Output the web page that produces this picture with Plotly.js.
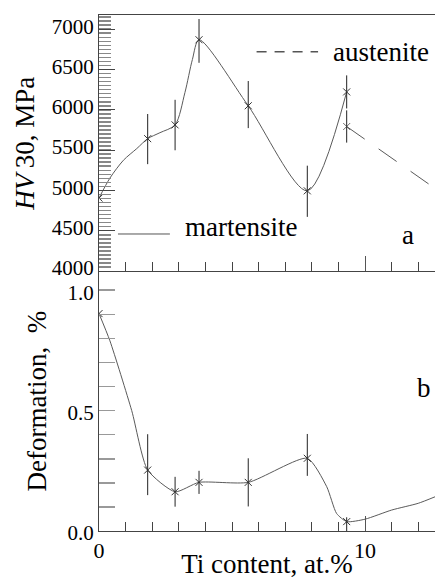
<!DOCTYPE html>
<html>
<head>
<meta charset="utf-8">
<script src="https://cdn.plot.ly/plotly-3.0.1.min.js"></script>
<style>html,body{margin:0;padding:0;background:#fff;}#chart{width:435px;height:579px;}</style>
</head>
<body>
<div id="chart"></div>
<script>
// ---- data ----
// measured points (markers + error bars)
const tiContent      = [0, 1.83, 2.86, 3.76, 5.61, 7.83, 9.31];
const hvMartensite   = [4905, 5642, 5813, 6869, 6050, 4995, 6222];
const hvErrPlus      = [0, 306, 311, 257, 307, 312, 205];
const hvErrMinus     = [0, 316, 315, 286, 277, 323, 205];
const tiAustenite    = [9.31, 12.63];
const hvAustenite    = [5793, 5025];
const hvAusErr       = [200, 0];
const deformation    = [0.903, 0.253, 0.163, 0.202, 0.202, 0.302, 0.039];
const defErrPlus     = [0, 0.149, 0.062, 0.048, 0.100, 0.101, 0.018];
const defErrMinus    = [0, 0.104, 0.062, 0.048, 0.100, 0.073, 0.039];
// smooth guide curves
const tiHvCurve      = [0, 0.41, 0.92, 1.42, 1.83, 2.29, 2.86, 3.23, 3.51, 3.76, 5.61, 7.83, 9.31];
const hvCurve        = [4905, 5153, 5375, 5519, 5642, 5716, 5813, 6214, 6623, 6869, 6050, 4995, 6222];
const tiDefCurve     = [0, 0.41, 1.23, 1.83, 2.86, 3.76, 5.61, 7.83, 8.56, 8.93, 9.31, 10, 11, 12, 12.63];
const defCurve       = [0.903, 0.790, 0.500, 0.253, 0.163, 0.202, 0.202, 0.302, 0.184, 0.073, 0.039, 0.049, 0.087, 0.115, 0.142];
// ticks
const hvTicks        = [4000, 4500, 5000, 5500, 6000, 6500, 7000];
const defTicks       = [0.0, 0.5, 1.0];
const xTicks         = [0, 10];

const FONT = 'Liberation Serif, Times New Roman, serif';
const lineCol = '#5a5a5a';
const markCol = '#333';
const mk = {symbol: 'x-thin', size: 7, line: {width: 1, color: markCol}, color: markCol};

const traces = [
  { x: tiHvCurve, y: hvCurve, xaxis: 'x2', yaxis: 'y2', mode: 'lines',
    line: {color: lineCol, width: 1, shape: 'spline', smoothing: 0.8}, hoverinfo: 'skip' },
  { x: tiContent, y: hvMartensite, xaxis: 'x2', yaxis: 'y2', mode: 'markers', marker: mk,
    error_y: {type: 'data', symmetric: false, array: hvErrPlus, arrayminus: hvErrMinus,
              color: '#222', thickness: 1, width: 0}, hoverinfo: 'skip' },
  { x: tiAustenite, y: hvAustenite, xaxis: 'x2', yaxis: 'y2', mode: 'lines+markers',
    line: {color: lineCol, width: 1, dash: '22px,17px'},
    marker: Object.assign({}, mk, {size: [7, 0]}),
    error_y: {type: 'data', array: hvAusErr, color: '#222', thickness: 1, width: 0}, hoverinfo: 'skip' },
  { x: tiDefCurve, y: defCurve, xaxis: 'x', yaxis: 'y', mode: 'lines',
    line: {color: lineCol, width: 1, shape: 'spline', smoothing: 0.6}, hoverinfo: 'skip' },
  { x: tiContent, y: deformation, xaxis: 'x', yaxis: 'y', mode: 'markers', marker: mk,
    error_y: {type: 'data', symmetric: false, array: defErrPlus, arrayminus: defErrMinus,
              color: '#222', thickness: 1, width: 0}, hoverinfo: 'skip' }
];

const xCommon = {
  range: [0, 12.63], showgrid: false, zeroline: false,
  showline: true, linecolor: '#444', linewidth: 1,
  ticks: 'inside', tickmode: 'array', tickvals: xTicks, ticklen: 15, tickcolor: '#555', tickwidth: 1,
  minor: {dtick: 1, tick0: 0, ticks: 'inside', ticklen: 9, tickcolor: '#444', tickwidth: 1, showgrid: false},
  tickfont: {family: FONT, size: 22, color: '#000'}
};

const layout = {
  width: 435, height: 579,
  margin: {l: 99, r: 0, t: 15, b: 48, pad: 0},
  paper_bgcolor: '#fff', plot_bgcolor: '#fff',
  font: {family: FONT, color: '#000'},
  showlegend: false,
  xaxis: Object.assign({}, xCommon, {
    anchor: 'y', domain: [0, 1],
    title: {text: 'Ti content, at.%', font: {family: FONT, size: 27, color: '#000'}, standoff: 4}
  }),
  xaxis2: Object.assign({}, xCommon, {
    anchor: 'y2', matches: 'x', showticklabels: false, mirror: true
  }),
  yaxis: {
    domain: [0, 0.503], range: [0, 1.078], showgrid: false, zeroline: false,
    showline: true, linecolor: '#444', linewidth: 1,
    ticks: 'inside', tickmode: 'array', tickvals: defTicks, tickformat: '.1f',
    ticklen: 16, tickcolor: '#999', tickwidth: 1.5, ticklabelshift: 2,
    minor: {dtick: 0.1, tick0: 0, ticks: 'inside', ticklen: 16, tickcolor: '#999', tickwidth: 1.5, showgrid: false},
    tickfont: {family: FONT, size: 21, color: '#000'},
    title: {text: 'Deformation,  %', font: {family: FONT, size: 27, color: '#000'}, standoff: 13}
  },
  yaxis2: {
    domain: [0.503, 1], range: [3995, 7176], showgrid: false, zeroline: false,
    showline: true, linecolor: '#444', linewidth: 1,
    ticks: 'inside', tickmode: 'array', tickvals: hvTicks, tickformat: 'd',
    ticklen: 16, tickcolor: '#444', tickwidth: 1, ticklabelshift: -3,
    minor: {dtick: 50, tick0: 4000, ticks: 'inside', ticklen: 12, tickcolor: '#888', tickwidth: 1.5, showgrid: false},
    tickfont: {family: FONT, size: 21, color: '#000'},
    title: {text: '<i>HV</i>\u200930, MPa', font: {family: FONT, size: 27, color: '#000'}, standoff: 9}
  },
  shapes: [
    {type: 'line', xref: 'paper', yref: 'paper', x0: 0.469, x1: 0.652, y0: 0.929, y1: 0.929,
     line: {color: '#555', width: 1.5, dash: '10px,8px'}},
    {type: 'line', xref: 'paper', yref: 'paper', x0: 0.0565, x1: 0.211, y0: 0.5756, y1: 0.5756,
     line: {color: '#555', width: 1}}
  ],
  annotations: [
    {text: 'austenite', xref: 'paper', yref: 'paper', x: 0.690, y: 0.928, xanchor: 'left', yanchor: 'middle',
     showarrow: false, font: {family: FONT, size: 27, color: '#000'}},
    {text: 'martensite', xref: 'paper', yref: 'paper', x: 0.25, y: 0.589, xanchor: 'left', yanchor: 'middle',
     showarrow: false, font: {family: FONT, size: 27, color: '#000'}},
    {text: 'a', xref: 'paper', yref: 'paper', x: 0.92, y: 0.574, xanchor: 'center', yanchor: 'middle',
     showarrow: false, font: {family: FONT, size: 27, color: '#000'}},
    {text: 'b', xref: 'paper', yref: 'paper', x: 0.967, y: 0.277, xanchor: 'center', yanchor: 'middle',
     showarrow: false, font: {family: FONT, size: 27, color: '#000'}}
  ]
};

Plotly.newPlot('chart', traces, layout, {staticPlot: true, displayModeBar: false});
</script>
</body>
</html>
